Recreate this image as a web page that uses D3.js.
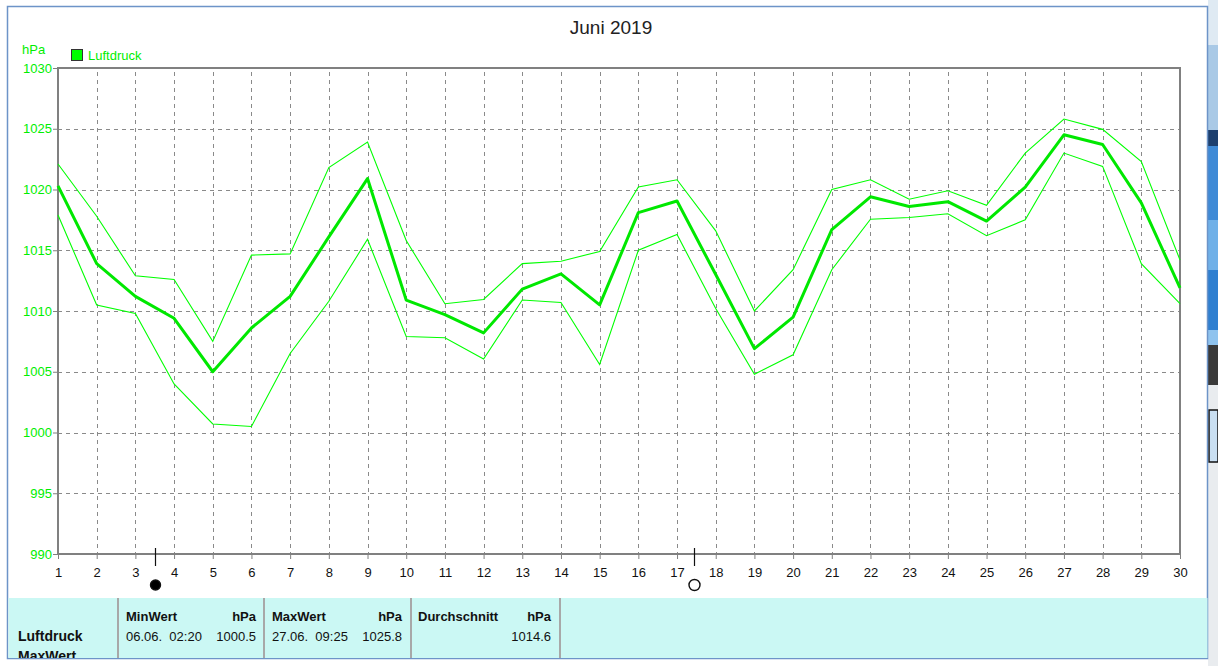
<!DOCTYPE html>
<html><head><meta charset="utf-8">
<script src="https://cdn.jsdelivr.net/npm/d3@7"></script>
<style>
html,body{margin:0;padding:0;background:#fff;}
svg{display:block;font-family:"Liberation Sans",Arial,sans-serif;}
</style></head>
<body><svg id="c" width="1218" height="666"></svg>
<script>
// ---- data ----
const days = d3.range(1, 31);
const meanValues = [1020.3,1013.9,1011.2,1009.4,1005.0,1008.6,1011.2,1016.1,1020.9,1010.9,
  1009.7,1008.2,1011.8,1013.05,1010.5,1018.1,1019.05,1013.0,1006.9,1009.5,
  1016.7,1019.4,1018.6,1019.0,1017.4,1020.2,1024.5,1023.7,1018.9,1011.9];
const maxValues = [1022.1,1017.8,1012.9,1012.6,1007.5,1014.6,1014.7,1021.8,1023.9,1015.8,
  1010.6,1010.95,1013.9,1014.1,1014.9,1020.2,1020.8,1016.6,1010.0,1013.4,
  1020.0,1020.8,1019.2,1019.9,1018.7,1023.0,1025.8,1024.95,1022.3,1014.2];
const minValues = [1017.9,1010.5,1009.8,1004.0,1000.7,1000.5,1006.5,1010.8,1015.9,1007.9,
  1007.8,1006.05,1010.9,1010.7,1005.6,1015.0,1016.3,1010.2,1004.8,1006.4,
  1013.4,1017.55,1017.7,1018.0,1016.2,1017.5,1023.0,1021.9,1013.9,1010.6];
const yTicks = [990,995,1000,1005,1010,1015,1020,1025,1030];
const moonDays = [3.5, 17.43];
const moonTypes = ["new", "full"];
const title = "Juni 2019";
const unit = "hPa";
const seriesName = "Luftdruck";
const statHeaders = ["MinWert", "MaxWert", "Durchschnitt"];
const statDates = ["06.06.  02:20", "27.06.  09:25", ""];
const statValues = ["1000.5", "1025.8", "1014.6"];

// ---- drawing ----
const svg = d3.select("#c");
const X0 = 58, X1 = 1180, Y0 = 68, Y1 = 554;
const x = d3.scaleLinear().domain([1, 30]).range([X0, X1]);
const y = d3.scaleLinear().domain([990, 1030]).range([Y1, Y0]);
const green = "#00ff00", textGreen = "#00ee00", axisGray = "#808080";

// right background strip (screenshot edge)
const strip = svg.append("g");
const stripParts = [[0,45,"#dfeaf3"],[45,130,"#a9c9e6"],[130,146,"#1d3f6e"],[146,220,"#3f8ad6"],[220,270,"#6fb0e8"],[270,330,"#2f7fd0"],[330,345,"#8fc3ee"],[345,385,"#3a3a3a"],[385,666,"#e9ecef"]];
stripParts.forEach(p => strip.append("rect").attr("x",1208).attr("y",p[0]).attr("width",10).attr("height",p[1]-p[0]).attr("fill",p[2]));
strip.append("rect").attr("x",1209).attr("y",410).attr("width",9).attr("height",52).attr("fill","#c9dff2").attr("stroke","#111").attr("stroke-width",1.5);

// outer frame
svg.append("rect").attr("x",7.5).attr("y",6.5).attr("width",1200).attr("height",652).attr("fill","#fff").attr("stroke","#6d94c8").attr("stroke-width",1.5);

// title
svg.append("text").attr("x",611).attr("y",34).attr("text-anchor","middle").attr("font-size",19).attr("fill","#222").text(title);

// unit & legend
svg.append("text").attr("x",22).attr("y",54).attr("font-size",13).attr("fill",textGreen).text(unit);
svg.append("rect").attr("x",71.5).attr("y",49.5).attr("width",11).attr("height",11).attr("fill",green).attr("stroke","#333").attr("stroke-width",1);
svg.append("text").attr("x",88).attr("y",60).attr("font-size",13).attr("fill",textGreen).text(seriesName);

// grid
const grid = svg.append("g").attr("stroke","#8a8a8a").attr("stroke-width",1).attr("stroke-dasharray","4,4");
days.filter(d => d > 1 && d < 30).forEach(d => grid.append("line").attr("x1",Math.round(x(d))+0.5).attr("x2",Math.round(x(d))+0.5).attr("y1",Y0+4).attr("y2",Y1));
yTicks.filter(v => v > 990 && v < 1030).forEach(v => grid.append("line").attr("x1",X0).attr("x2",X1).attr("y1",Math.round(y(v))+0.5).attr("y2",Math.round(y(v))+0.5));

// axes
const yAxis = svg.append("g").attr("transform",`translate(${X0},0)`)
  .call(d3.axisLeft(y).tickValues(yTicks).tickSize(5).tickFormat(d3.format("d")));
yAxis.select(".domain").remove();
yAxis.selectAll(".tick line").attr("stroke",axisGray);
yAxis.selectAll(".tick text").attr("fill",textGreen).attr("font-size",13).attr("font-family","Liberation Sans,Arial,sans-serif").attr("x",-6);

const xAxis = svg.append("g").attr("transform",`translate(0,${Y1})`)
  .call(d3.axisBottom(x).tickValues(days).tickSize(5).tickFormat(d3.format("d")));
xAxis.select(".domain").remove();
xAxis.selectAll(".tick line").attr("stroke",axisGray);
xAxis.selectAll(".tick text").attr("fill","#111").attr("font-size",13).attr("font-family","Liberation Sans,Arial,sans-serif").attr("y",11).attr("dy","0.9em");

// plot frame
svg.append("rect").attr("x",X0).attr("y",Y0).attr("width",X1-X0).attr("height",Y1-Y0).attr("fill","none").attr("stroke",axisGray).attr("stroke-width",2);

// lines
const line = d3.line().x((d,i) => x(days[i])).y(d => y(d));
svg.append("path").datum(maxValues).attr("d",line).attr("fill","none").attr("stroke",green).attr("stroke-width",1.1);
svg.append("path").datum(minValues).attr("d",line).attr("fill","none").attr("stroke",green).attr("stroke-width",1.1);
svg.append("path").datum(meanValues).attr("d",line).attr("fill","none").attr("stroke","#00e800").attr("stroke-width",3).attr("stroke-linejoin","round");

// moon phases
moonDays.forEach((d, i) => {
  const mx = Math.round(x(d)) + 0.5;
  svg.append("line").attr("x1",mx).attr("x2",mx).attr("y1",Y1-6).attr("y2",Y1+12).attr("stroke","#111").attr("stroke-width",1.2);
  svg.append("circle").attr("cx",mx).attr("cy",585).attr("r",moonTypes[i]==="new"?5:5.5)
    .attr("fill",moonTypes[i]==="new"?"#000":"none").attr("stroke","#111").attr("stroke-width",1.4);
});

// bottom stats panel
const panel = svg.append("g");
panel.append("rect").attr("x",8.5).attr("y",598).attr("width",1199).attr("height",60).attr("fill","#cbf8f4");
[118,264,411,560].forEach(px => panel.append("line").attr("x1",px).attr("x2",px).attr("y1",598).attr("y2",658).attr("stroke","#a8a8a8").attr("stroke-width",2));
panel.append("text").attr("x",18).attr("y",641).attr("font-size",14).attr("font-weight","bold").attr("fill","#111").text(seriesName);
svg.append("clipPath").attr("id","pc").append("rect").attr("x",8).attr("y",598).attr("width",1200).attr("height",60);
panel.append("text").attr("x",18).attr("y",661).attr("font-size",14).attr("font-weight","bold").attr("fill","#111").attr("clip-path","url(#pc)").text(statHeaders[1]);
const cols = [[126,256],[272,402],[418,551]];
cols.forEach((c, i) => {
  panel.append("text").attr("x",c[0]).attr("y",621).attr("font-size",13).attr("font-weight","bold").attr("fill","#111").text(statHeaders[i]);
  panel.append("text").attr("x",c[1]).attr("y",621).attr("text-anchor","end").attr("font-size",13).attr("font-weight","bold").attr("fill","#111").text(unit);
  if (statDates[i]) panel.append("text").attr("x",c[0]).attr("y",641).attr("font-size",13).attr("fill","#111").style("white-space","pre").text(statDates[i]);
  panel.append("text").attr("x",c[1]).attr("y",641).attr("text-anchor","end").attr("font-size",13).attr("fill","#111").text(statValues[i]);
});
</script></body></html>
